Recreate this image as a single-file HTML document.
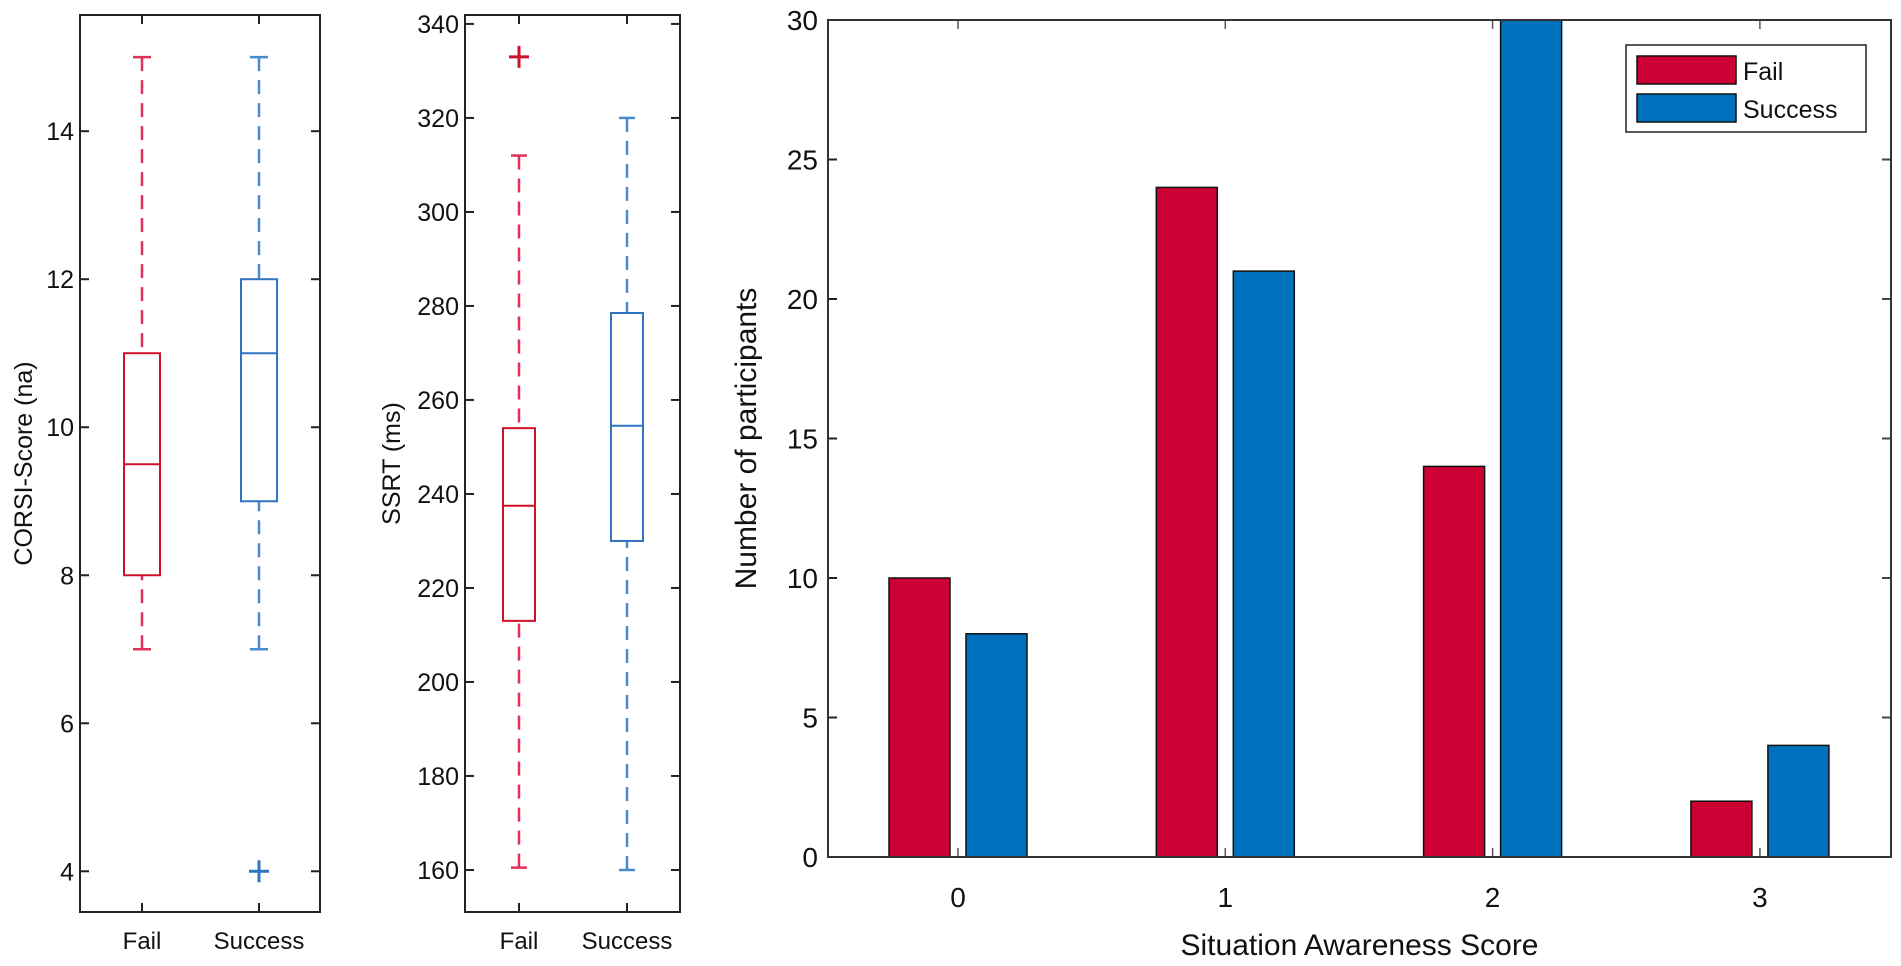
<!DOCTYPE html>
<html><head><meta charset="utf-8">
<style>
html,body{margin:0;padding:0;background:#fff;}
svg{display:block;font-family:"Liberation Sans",sans-serif;}
</style></head>
<body>
<svg id="fig" width="1901" height="966" viewBox="0 0 1901 966" xmlns="http://www.w3.org/2000/svg"></svg>
<script>
// ---- data ----
const boxCategories = ["Fail", "Success"];
const corsiStats = [ // [whiskerLow, q1, median, q3, whiskerHigh]
  [7, 8, 9.5, 11, 15],
  [7, 9, 11, 12, 15]
];
const corsiOutliers = [[], [4]];
const corsiTicks = [4, 6, 8, 10, 12, 14];
const ssrtStats = [
  [160.5, 213, 237.5, 254, 312],
  [160, 230, 254.5, 278.5, 320]
];
const ssrtOutliers = [[333], []];
const ssrtTicks = [160, 180, 200, 220, 240, 260, 280, 300, 320, 340];
const barCategories = ["0", "1", "2", "3"];
const failCounts = [10, 24, 14, 2];
const successCounts = [8, 21, 30, 4];
const barTicks = [0, 5, 10, 15, 20, 25, 30];
const seriesNames = ["Fail", "Success"];

const NS = "http://www.w3.org/2000/svg";
const svg = document.getElementById("fig");
function mk(tag, attrs, parent, text) {
  const e = document.createElementNS(NS, tag);
  for (const k in attrs) e.setAttribute(k, attrs[k]);
  if (text !== undefined) e.textContent = text;
  (parent || svg).appendChild(e);
  return e;
}
const boxColors = [{box:"#d0112b", wh:"#e0315a"}, {box:"#2f74c0", wh:"#4a8ad0"}];

function boxPanel(name, L, R, T, B, vmin, vmax, catX, stats, outliers, ticks, half, ylabel, ylabelX) {
  const g = mk("g", {});
  
  
  const y = v => B - (v - vmin) / (vmax - vmin) * (B - T);
  // ticks
  ticks.forEach(t => {
    const yy = y(t);
    mk("line", {x1:L, x2:L+9, y1:yy, y2:yy, stroke:"#222", "stroke-width":2}, g);
    mk("line", {x1:R-9, x2:R, y1:yy, y2:yy, stroke:"#222", "stroke-width":2}, g);
    const lab = mk("text", {x:L-6, y:yy+9, "text-anchor":"end", "font-size":25, fill:"#111"}, g, String(t));
    
    
  });
  catX.forEach((cx, i) => {
    mk("line", {x1:cx, x2:cx, y1:B, y2:B-9, stroke:"#222", "stroke-width":2}, g);
    mk("line", {x1:cx, x2:cx, y1:T, y2:T+9, stroke:"#222", "stroke-width":2}, g);
    const lab = mk("text", {x:cx, y:B+37, "text-anchor":"middle", "font-size":24, fill:"#111"}, g, boxCategories[i]);
    
    
    const s = stats[i], c = boxColors[i];
    const bg = mk("g", {}, g);
    
    
    mk("line", {x1:cx, x2:cx, y1:y(s[4]), y2:y(s[3]), stroke:c.wh, "stroke-width":2.5, "stroke-dasharray":"14 9"}, bg);
    mk("line", {x1:cx, x2:cx, y1:y(s[0]), y2:y(s[1]), stroke:c.wh, "stroke-width":2.5, "stroke-dasharray":"14 9"}, bg);
    mk("line", {x1:cx-half/2, x2:cx+half/2, y1:y(s[4]), y2:y(s[4]), stroke:c.wh, "stroke-width":2.5}, bg);
    mk("line", {x1:cx-half/2, x2:cx+half/2, y1:y(s[0]), y2:y(s[0]), stroke:c.wh, "stroke-width":2.5}, bg);
    mk("rect", {x:cx-half, y:y(s[3]), width:2*half, height:y(s[1])-y(s[3]), fill:"none", stroke:c.box, "stroke-width":2}, bg);
    mk("line", {x1:cx-half, x2:cx+half, y1:y(s[2]), y2:y(s[2]), stroke:c.box, "stroke-width":2}, bg);
    outliers[i].forEach(o => {
      const oy = y(o);
      const og = mk("g", {}, bg);
      
      
      mk("line", {x1:cx-10, x2:cx+10, y1:oy, y2:oy, stroke:c.box, "stroke-width":3}, og);
      mk("line", {x1:cx, x2:cx, y1:oy-11, y2:oy+11, stroke:c.box, "stroke-width":3}, og);
    });
  });
  mk("rect", {x:L, y:T, width:R-L, height:B-T, fill:"none", stroke:"#222", "stroke-width":2}, g);
  const yl = mk("text", {x:ylabelX, y:(T+B)/2, "text-anchor":"middle", "font-size":25, fill:"#111", transform:`rotate(-90 ${ylabelX} ${(T+B)/2})`}, g, ylabel);
  
  
}

// CORSI panel: ticks 14 at y=131, 1 unit=74px, axis 15..912
boxPanel("corsi-boxplot", 80, 320, 15, 912, 3.45, 15.57, [142, 259], corsiStats, corsiOutliers, corsiTicks, 18, "CORSI-Score (na)", 32);
// SSRT panel: 340 at y=24, 20 units = 94px
boxPanel("ssrt-boxplot", 465, 680, 15, 912, 151.06, 341.9, [519, 627], ssrtStats, ssrtOutliers, ssrtTicks, 16, "SSRT (ms)", 400);

// ---- bar chart ----
(function(){
  const L = 828, R = 1891, T = 20, B = 857;
  const g = mk("g", {});
  
  
  const y = v => B - v / 30 * (B - T);
  const x = i => 958 + i * 267.3;
  const bw = 61, off = 38.5;
  barTicks.forEach(t => {
    const yy = y(t);
    mk("line", {x1:L, x2:L+9, y1:yy, y2:yy, stroke:"#222", "stroke-width":2}, g);
    mk("line", {x1:R-9, x2:R, y1:yy, y2:yy, stroke:"#444", "stroke-width":2}, g);
    const lab = mk("text", {x:L-10, y:yy+10, "text-anchor":"end", "font-size":28, fill:"#111"}, g, String(t));
    
    
  });
  barCategories.forEach((c, i) => {
    const cx = x(i);
    mk("line", {x1:cx, x2:cx, y1:B, y2:B-9, stroke:"#555", "stroke-width":1.5}, g);
    mk("line", {x1:cx, x2:cx, y1:T, y2:T+9, stroke:"#555", "stroke-width":1.5}, g);
    const lab = mk("text", {x:cx, y:B+50, "text-anchor":"middle", "font-size":28, fill:"#111"}, g, c);
    
    
    const fb = mk("rect", {x:cx-off-bw/2, y:y(failCounts[i]), width:bw, height:B-y(failCounts[i]), fill:"#cc0033", stroke:"#111", "stroke-width":1.5}, g);
    
    
    const sb = mk("rect", {x:cx+off-bw/2, y:y(successCounts[i]), width:bw, height:B-y(successCounts[i]), fill:"#0072bd", stroke:"#111", "stroke-width":1.5}, g);
    
    
  });
  mk("rect", {x:L, y:T, width:R-L, height:B-T, fill:"none", stroke:"#333", "stroke-width":2}, g);
  const xt = mk("text", {x:(L+R)/2 + 0, y:955, "text-anchor":"middle", "font-size":30, fill:"#111"}, g, "Situation Awareness Score");
  
  
  const yt = mk("text", {x:756, y:(T+B)/2, "text-anchor":"middle", "font-size":30, fill:"#111", transform:`rotate(-90 756 ${(T+B)/2})`}, g, "Number of participants");
  
  
  // legend
  const lg = mk("g", {}, g);
  
  
  mk("rect", {x:1626, y:45, width:240, height:87, fill:"#fff", stroke:"#222", "stroke-width":1.5}, lg);
  const cols = ["#cc0033", "#0072bd"];
  seriesNames.forEach((n, i) => {
    const ey = 56 + i * 38;
    const e = mk("g", {}, lg);
    
    
    mk("rect", {x:1637, y:ey, width:99, height:28, fill:cols[i], stroke:"#111", "stroke-width":1.5}, e);
    mk("text", {x:1743, y:ey+24, "font-size":25, fill:"#111"}, e, n);
  });
})();
</script>
</body></html>
